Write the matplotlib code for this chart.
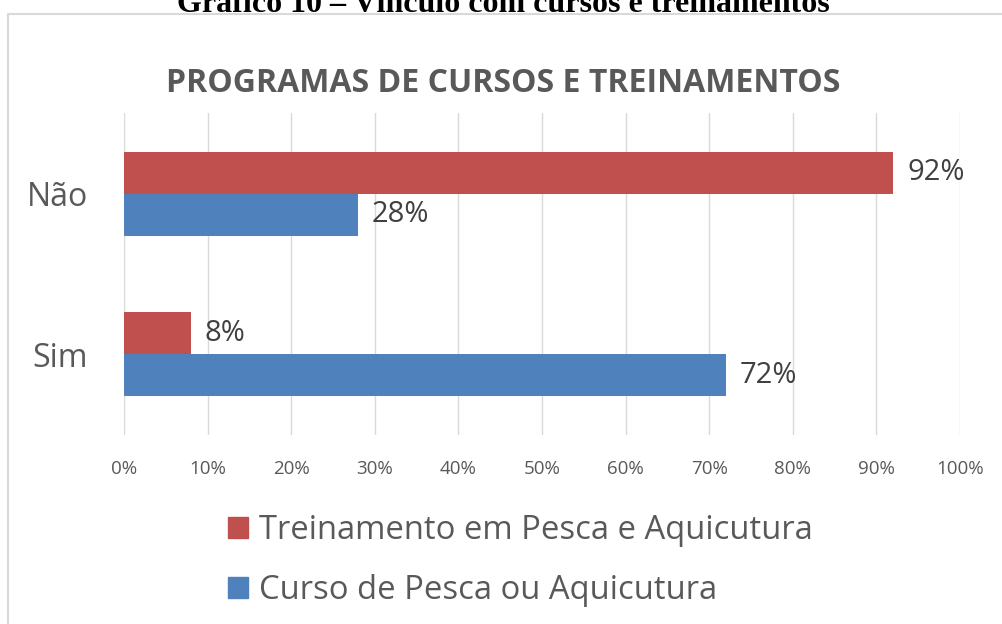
import numpy as np
import matplotlib.pyplot as plt
from matplotlib.patches import Patch
from matplotlib.lines import Line2D

# data
categories = ["Sim", "Não"]
treinamento = [8, 92]   # Treinamento em Pesca e Aquicutura (red)
curso = [72, 28]        # Curso de Pesca ou Aquicutura (blue)
xticks = [0, 10, 20, 30, 40, 50, 60, 70, 80, 90, 100]

red = "#C0504D"
blue = "#4F81BD"
grey_txt = "#595959"
font = "Open Sans"

fig = plt.figure(figsize=(10.02, 6.24), dpi=100)
fig.patch.set_facecolor("white")

# caption of the document page, cut at the top
fig.text(0.502, 1 - 12 / 624, "Gráfico 10 – Vínculo com cursos e treinamentos",
         ha="center", va="baseline", fontsize=23, fontweight="bold",
         family="Liberation Serif", color="black")

# chart frame (only left and top edges visible)
fig.add_artist(Line2D([8 / 1002, 8 / 1002, 1.0], [0, 1 - 14 / 624, 1 - 14 / 624],
                      transform=fig.transFigure, color="#D9D9D9", lw=1.5))

ax = fig.add_axes([124 / 1002, (624 - 435) / 624, 836 / 1002, 322 / 624])
y = np.arange(len(categories))
h = 0.2625
b1 = ax.barh(y + h / 2, treinamento, height=h, color=red,
             label="Treinamento em Pesca e Aquicutura", zorder=3)
b2 = ax.barh(y - h / 2, curso, height=h, color=blue,
             label="Curso de Pesca ou Aquicutura", zorder=3)

for bars in (b1, b2):
    ax.bar_label(bars, labels=[f"{int(v)}%" for v in bars.datavalues],
                 padding=10, fontsize=21, color="#404040", family=font)

ax.set_xlim(0, 100)
ax.set_ylim(-0.506, 1.506)
ax.set_xticks(xticks)
ax.set_xticklabels([f"{v}%" for v in xticks], fontsize=13.5, color=grey_txt, family=font)
ax.set_yticks(y)
ax.set_yticklabels(categories, fontsize=23, color=grey_txt, family=font)
ax.tick_params(axis="x", length=0, pad=18)
ax.tick_params(axis="y", length=0, pad=26)
ax.grid(axis="x", color="#D9D9D9", lw=1, zorder=0)
for s in ax.spines.values():
    s.set_visible(False)

fig.text(503 / 1002, 1 - 83 / 624, "PROGRAMAS DE CURSOS E TREINAMENTOS",
         ha="center", va="center", fontsize=23, fontweight="bold",
         color=grey_txt, family=font)

handles = [Patch(color=red), Patch(color=blue)]
labels = ["Treinamento em Pesca e Aquicutura", "Curso de Pesca ou Aquicutura"]
fig.legend(handles, labels, loc="upper left", bbox_to_anchor=(228 / 1002, 1 - 514 / 624),
           frameon=False, prop={"family": font, "size": 23.6}, labelcolor=grey_txt,
           borderaxespad=0, borderpad=0,
           handlelength=0.61, handleheight=0.61, handletextpad=0.34, labelspacing=0.82)

fig.savefig("out.png", dpi=100)
